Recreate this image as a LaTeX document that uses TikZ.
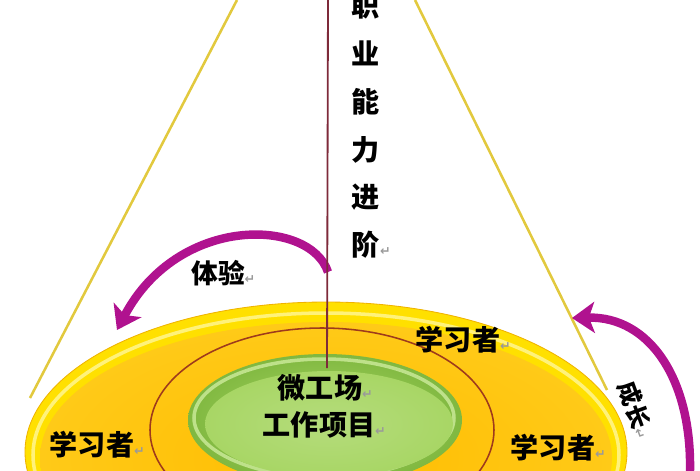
\documentclass[tikz,border=0pt]{standalone}
\usepackage{fontspec}
\usetikzlibrary{arrows.meta}
\usetikzlibrary{positioning}
\newfontfamily\cjk{Noto Sans CJK SC}
\newfontfamily\symf{DejaVu Sans}
\definecolor{discrim}{HTML}{FFE000}
\definecolor{discedge}{HTML}{EFB300}
\definecolor{rimlight}{HTML}{FFF27A}
\definecolor{discbody}{HTML}{FFBC00}
\definecolor{discbody2}{HTML}{FFCA18}
\definecolor{ringred}{HTML}{9E3A1C}
\definecolor{greenmid}{HTML}{A8D665}
\definecolor{greendark}{HTML}{80B840}
\definecolor{greenlight}{HTML}{CDEB9C}
\definecolor{arrowmag}{HTML}{B0128F}
\definecolor{stemred}{HTML}{7E2A3A}
\definecolor{sideline}{HTML}{E2C93E}
\definecolor{markgray}{HTML}{9A9A9A}
\newcommand{\retmark}{\rlap{\textcolor{markgray}{\symf\fontsize{9}{9}\selectfont ↵}}}
\tikzset{%
  mytext/.style={font=\cjk\bfseries\fontsize{20}{20}\selectfont, text=black, inner sep=0pt},
  myarrow/.style={draw=arrowmag, line width=6pt, -{Stealth[length=16pt, width=22pt, inset=4pt]}},
  myline/.style={draw=sideline, line width=1.8pt},
  mystem/.style={draw=stemred, line width=1.3pt}
}

\begin{document}
\begin{tikzpicture}[x=0.025cm, y=-0.025cm]
  \useasboundingbox (0,0) rectangle (700,470);
  \clip (0,0) rectangle (700,470);
  \coordinate (l1) at (237,0);
  \coordinate (l2) at (30,398);
  \coordinate (r1) at (415,0);
  \coordinate (r2) at (607,390);
  \draw [myline] (l1) -- (l2) ;
  \draw [myline] (r1) -- (r2) ;

  % disc and rings
  \coordinate (disc) at (326,452);
  \fill [discrim] (disc) ellipse [x radius=301, y radius=150];
  \draw [discedge, line width=0.6pt] (disc) ellipse [x radius=301, y radius=150];
  \draw [rimlight, line width=2.5pt] (326,455) ellipse [x radius=293, y radius=142];
  \shade [inner color=discbody, outer color=discbody2] (326,458) ellipse [x radius=286, y radius=136];
  \draw [ringred, line width=1.1pt] (322,430) ellipse [x radius=172, y radius=102];
  \coordinate (core) at (325,420);
  \shade [inner color=greenmid, outer color=greendark] (core) ellipse [x radius=137, y radius=66];
  \draw [greenlight, line width=2.5pt, opacity=0.8] (324,418) ellipse [x radius=130, y radius=59];
  \shade [inner color=greenmid!85!white, outer color=greenmid] (329,424) ellipse [x radius=124, y radius=53];

  % arrows
  \coordinate (e1) at (328,272);
  \coordinate (e2) at (117,330);
  \coordinate (g1) at (690,472);
  \coordinate (g2) at (572,318);
  \draw [myarrow] (e1) .. controls (310,218) and (178,214) .. (e2) ;
  \draw [myarrow] (g1) .. controls (692,380) and (650,316) .. (g2) ;

  \coordinate (s1) at (328,0);
  \coordinate (s2) at (327,368);
  \draw [mystem] (s1) -- (s2) ;

  % labels
  \node[mytext, align=center, font=\cjk\bfseries\fontsize{20}{34}\selectfont] (vt) at (366,126) {职\\业\\能\\力\\进\\阶\retmark};
  \node[mytext, font=\cjk\bfseries\fontsize{19}{19}\selectfont] (ty) at (218,273) {体验\retmark};
  \node[mytext] (x1) at (458,340) {学习者\retmark};
  \node[mytext] (x2) at (92,445) {学习者\retmark};
  \node[mytext] (x3) at (553,448) {学习者\retmark};
  \node[mytext] (w1) at (320,388) {微工场\retmark};
  \node[mytext] (w2) at (319,425) {工作项目\retmark};
  \node[mytext, rotate=-70, font=\cjk\bfseries\fontsize{17}{17}\selectfont] (cz) at (634,405) {成长\retmark};
\end{tikzpicture}
\end{document}
